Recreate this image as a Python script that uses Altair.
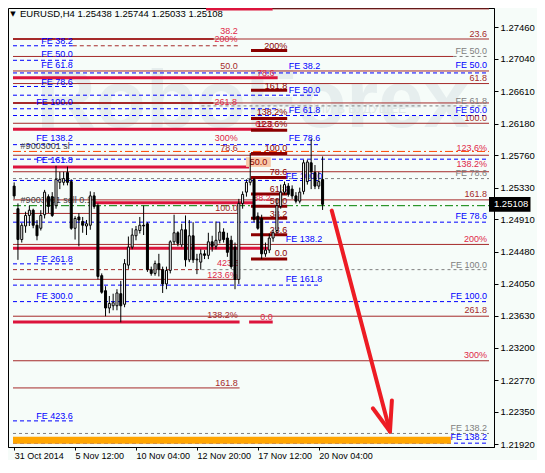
import altair as alt
import pandas as pd

FONT = "Liberation Sans"
BG = "#f6fcf9"

# ---------------- candles (H4 bars, index 0 = 31 Oct 2014) ----------------
opens = [1.2535, 1.2505, 1.2464, 1.2482, 1.2496, 1.2503, 1.2483, 1.2479, 1.2497, 1.2521,
         1.2521, 1.2509, 1.2540, 1.2540, 1.2553, 1.2541, 1.2479, 1.2494, 1.2488, 1.2482,
         1.2483, 1.2522, 1.2509, 1.2416, 1.2396, 1.2373, 1.2376, 1.2376, 1.2392, 1.2378,
         1.2430, 1.2454, 1.2469, 1.2476, 1.2483, 1.2485, 1.2424, 1.2419, 1.2432, 1.2424,
         1.2405, 1.2423, 1.2461, 1.2473, 1.2457, 1.2477, 1.2437, 1.2469, 1.2437, 1.2434,
         1.2445, 1.2443, 1.2461, 1.2455, 1.2463, 1.2474, 1.2466, 1.2463, 1.2454, 1.2411,
         1.2512, 1.2527, 1.2540, 1.2544, 1.2495, 1.2492, 1.2445, 1.2450, 1.2466, 1.2476,
         1.2508, 1.2527, 1.2535, 1.2531, 1.2522, 1.2515, 1.2528, 1.2541, 1.2566, 1.2553,
         1.2535, 1.25438]
highs = [1.2540, 1.2512, 1.2486, 1.2501, 1.2509, 1.2505, 1.2490, 1.2503, 1.2530, 1.2524,
         1.2527, 1.2562, 1.2554, 1.2554, 1.2561, 1.2544, 1.2495, 1.2499, 1.2494, 1.2490,
         1.2528, 1.2527, 1.2512, 1.2419, 1.2402, 1.2389, 1.2392, 1.2398, 1.2409, 1.2438,
         1.2468, 1.2479, 1.2482, 1.2494, 1.2509, 1.2487, 1.2428, 1.2436, 1.2445, 1.2428,
         1.2428, 1.2463, 1.2497, 1.2475, 1.2485, 1.2496, 1.2490, 1.2487, 1.2445, 1.2451,
         1.2450, 1.2473, 1.2469, 1.2488, 1.2487, 1.2479, 1.2473, 1.2469, 1.2460, 1.2518,
         1.2528, 1.2544, 1.2579, 1.2546, 1.2500, 1.2497, 1.2460, 1.2472, 1.2477, 1.2518,
         1.2537, 1.2541, 1.2539, 1.2536, 1.2527, 1.2533, 1.2570, 1.2570, 1.2598, 1.2563,
         1.2554, 1.25744]
lows = [1.2518, 1.2437, 1.2460, 1.2473, 1.2482, 1.2479, 1.2463, 1.2476, 1.2492, 1.2499,
        1.2494, 1.2505, 1.2531, 1.2536, 1.2536, 1.2477, 1.2464, 1.2455, 1.2473, 1.2470,
        1.2477, 1.2505, 1.2411, 1.2392, 1.2362, 1.2366, 1.2370, 1.2370, 1.2354, 1.2374,
        1.2425, 1.2451, 1.2463, 1.2472, 1.2470, 1.2421, 1.2416, 1.2416, 1.2415, 1.2393,
        1.2398, 1.2419, 1.2457, 1.2455, 1.2454, 1.2428, 1.2434, 1.2433, 1.2418, 1.2424,
        1.2438, 1.2438, 1.2448, 1.2451, 1.2459, 1.2460, 1.2441, 1.2425, 1.2398, 1.2405,
        1.2505, 1.2521, 1.2536, 1.2487, 1.2477, 1.2438, 1.2441, 1.2446, 1.2461, 1.2472,
        1.2505, 1.2524, 1.2521, 1.2518, 1.2512, 1.2512, 1.2524, 1.2537, 1.2531, 1.2531,
        1.2531, 1.25033]
closes = [1.2522, 1.2464, 1.2483, 1.2496, 1.2503, 1.2483, 1.2469, 1.2496, 1.2527, 1.2508,
          1.2496, 1.2544, 1.2544, 1.2545, 1.2540, 1.2479, 1.2492, 1.2490, 1.2483, 1.2485,
          1.2522, 1.2508, 1.2415, 1.2394, 1.2373, 1.2379, 1.2380, 1.2393, 1.2376, 1.2432,
          1.2454, 1.2470, 1.2477, 1.2483, 1.2482, 1.2424, 1.2419, 1.2432, 1.2424, 1.2405,
          1.2423, 1.2461, 1.2473, 1.2459, 1.2477, 1.2437, 1.2469, 1.2437, 1.2438, 1.2445,
          1.2443, 1.2461, 1.2455, 1.2463, 1.2474, 1.2464, 1.2447, 1.2428, 1.2411, 1.2512,
          1.2524, 1.2540, 1.2544, 1.2491, 1.2479, 1.2445, 1.2450, 1.2466, 1.2473, 1.2509,
          1.2527, 1.2537, 1.2524, 1.2522, 1.2515, 1.2527, 1.2566, 1.2567, 1.2554, 1.2535,
          1.2541, 1.25108]

tick_bars = [0, 16, 32, 48, 64, 80]
tick_labels = ["31 Oct 2014", "5 Nov 12:00", "10 Nov 04:00", "12 Nov 20:00", "17 Nov 12:00", "20 Nov 04:00"]
price_ticks = [1.27460, 1.27040, 1.26610, 1.26180, 1.25760, 1.25330, 1.24910,
               1.24480, 1.24050, 1.23630, 1.23200, 1.22770, 1.22350, 1.21920]

# ---------------- horizontal levels (price, from bar, to bar, kind) ----------------
lvl_price = [1.27705, 1.27705, 1.27305, 1.27305, 1.27215, 1.27215, 1.27151, 1.27073, 1.27073, 1.27022,
             1.26880, 1.26854, 1.26790, 1.26713, 1.26674, 1.26623, 1.26558, 1.26455, 1.26455, 1.26416,
             1.26378, 1.26288, 1.26249, 1.26185, 1.26107, 1.26094, 1.25901, 1.25811, 1.25785, 1.25760,
             1.25708, 1.25605, 1.25541, 1.25463, 1.25450, 1.25425, 1.25244, 1.25167, 1.25128, 1.25090,
             1.25083, 1.24987, 1.24922, 1.24871, 1.24703, 1.24575, 1.24523, 1.24381, 1.24317, 1.24240,
             1.24240, 1.24111, 1.24034, 1.23815, 1.23621, 1.23544, 1.23544, 1.23029, 1.22668, 1.22230,
             1.22063, 1.21973, 1.21934]
lvl_from = [50.4, 67.9, -0.3, -0.3, -0.3, 15.4, 62.2, -0.3, 115.4, -0.3,
            -0.3, -0.3, -0.3, -0.3, -0.3, 62.2, -0.3, -0.3, 52.4, 49.2,
            -0.3, -0.3, 62.2, -0.3, -0.3, 62.2, -0.3, -0.3, 62.2, -0.3,
            -0.3, -0.3, -0.3, 62.2, -0.3, -0.3, 62.2, -0.3, 21.2, -0.3,
            62.2, -0.3, 62.2, -0.3, 62.2, -0.3, -0.3, 62.2, -0.3, -0.3,
            49.2, -0.3, -0.3, -0.3, -0.3, -0.3, 61.7, -0.3, -0.3, -0.3,
            -0.3, -0.3, -0.3]
lvl_to = [67.9, 124.7, 124.7, 52.4, 15.4, 59.2, 71.7, 115.4, 124.7, 15.4,
          124.7, 124.7, 69.2, 124.7, 15.4, 71.7, 80.4, 52.4, 124.7, 124.7,
          69.2, 124.7, 71.7, 124.7, 67.9, 71.7, 80.4, 124.7, 71.7, 124.7,
          124.7, 61.7, 124.7, 71.7, 124.7, 80.4, 71.7, 124.7, 62.9, 124.7,
          71.7, 59.2, 71.7, 124.7, 71.7, 124.7, 66.7, 71.7, 15.4, 49.2,
          124.7, 59.2, 80.4, 124.7, 124.7, 59.2, 67.9, 124.7, 59.2, 15.4,
          124.7, 114.7, 124.7]
lvl_kind = ["crimson", "brown", "brown", "brown2", "blue", "rdash", "maroon", "brown", "gray", "blue",
            "brown", "blue", "crimson", "brown", "blue", "maroon", "blue", "brown2", "brown", "gray",
            "blue", "blue", "maroon", "brown", "crimson", "maroon", "blue", "sl", "maroon", "brown",
            "blue", "crimson", "brown", "maroon", "gray", "blue", "maroon", "brown", "crimson", "entry",
            "maroon", "brown", "maroon", "blue", "maroon", "brown", "crimson", "maroon", "blue", "rdash",
            "gray", "brown", "blue", "blue", "brown", "crimson", "crimson", "brown", "brown", "blue",
            "gray", "band", "blue"]

# ---------------- level labels (text, bar, price, kind, align) ----------------
lab_text = ["23.6", "200%", "38.2", "FE 38.2", "200%", "FE 50.0", "FE 50.0", "50.0", "FE 61.8", "FE 38.2",
            "FE 50.0", "78.6", "61.8", "FE 78.6", "161.8", "FE 50.0", "FE 100.0", "261.8", "FE 61.8", "138.2%",
            "FE 61.8", "FE 50.0", "100.0", "61.8", "123.6%", "FE 138.2", "300%", "FE 78.6", "#9003001 sl", "78.6",
            "100.0", "123.6%", "FE 161.8", "50.0", "138.2%", "78.6", "FE 78.6", "FE 100.0", "61.8", "161.8",
            "38.2", "#9003001 sell 0.1", "50.0", "100.0", "38.2", "FE 78.6", "23.6", "FE 138.2", "200%", "0.0",
            "FE 261.8", "423.6", "FE 100.0", "123.6%", "FE 161.8", "FE 300.0", "FE 100.0", "261.8", "138.2%", "0.0",
            "300%", "161.8", "FE 423.6", "FE 138.2", "FE 138.2"]
lab_bar = [124.2, 52.6, 58.7, 15.4, 71.7, 124.2, 15.4, 58.7, 15.4, 80.4,
           124.2, 68.4, 124.2, 15.4, 71.7, 80.4, 15.4, 52.6, 124.2, 71.7,
           80.4, 124.2, 124.2, 67.9, 71.7, 15.4, 58.7, 80.4, 1.7, 58.7,
           71.7, 124.2, 15.4, 64.2, 124.2, 71.7, 124.2, 80.9, 71.7, 124.2,
           67.4, 1.7, 71.7, 58.7, 71.7, 124.2, 71.7, 80.9, 124.2, 71.7,
           15.4, 59.2, 124.2, 58.7, 80.9, 15.4, 124.2, 124.2, 58.7, 67.9,
           124.2, 58.7, 15.4, 124.2, 124.2]
lab_price = [1.27370, 1.27305, 1.27408, 1.27279, 1.27215, 1.27151, 1.27112, 1.26945, 1.26957, 1.26945,
             1.26957, 1.26854, 1.26790, 1.26739, 1.26687, 1.26623, 1.26468, 1.26468, 1.26481, 1.26339,
             1.26365, 1.26365, 1.26249, 1.26172, 1.26172, 1.25991, 1.25991, 1.25991, 1.25888, 1.25863,
             1.25850, 1.25850, 1.25695, 1.25669, 1.25644, 1.25541, 1.25528, 1.25489, 1.25309, 1.25244,
             1.25193, 1.25167, 1.25154, 1.25064, 1.24974, 1.24948, 1.24768, 1.24652, 1.24652, 1.24459,
             1.24381, 1.24330, 1.24304, 1.24175, 1.24111, 1.23892, 1.23892, 1.23699, 1.23634, 1.23609,
             1.23106, 1.22733, 1.22295, 1.22140, 1.22012]
lab_kind = ["brown", "red", "red", "blue", "maroon", "gray", "blue", "brown", "blue", "blue",
            "blue", "red", "brown", "blue", "maroon", "blue", "blue", "red", "gray", "maroon",
            "blue", "blue", "brown", "red", "maroon", "blue", "red", "blue", "order", "brown",
            "maroon", "red", "blue", "maroon", "red", "maroon", "gray", "blue", "maroon", "brown",
            "red", "order", "maroon", "brown", "maroon", "blue", "maroon", "blue", "red", "maroon",
            "blue", "red", "gray", "red", "blue", "blue", "blue", "brown", "brown", "red",
            "red", "brown", "blue", "gray", "blue"]
lab_align = ["right", "left", "right", "right", "right", "right", "right", "right", "right", "right",
             "right", "right", "right", "right", "right", "right", "right", "left", "right", "right",
             "right", "right", "right", "right", "right", "right", "right", "right", "left", "right",
             "right", "right", "right", "center", "right", "right", "right", "right", "right", "right",
             "right", "left", "right", "right", "right", "right", "right", "right", "right", "right",
             "right", "right", "right", "right", "right", "right", "right", "right", "right", "right",
             "right", "right", "right", "right", "right"]

# highlighted "50.0" tag box
box_from, box_to, box_top, box_bottom = [60.9], [67.4], [1.25734], [1.25605]

# red forecast arrow (shaft + two head strokes)
arrow_x1 = [83.4, 94.2, 99.2]
arrow_p1 = [1.25025, 1.22398, 1.22501]
arrow_x2 = [98.7, 98.7, 98.7]
arrow_p2 = [1.22089, 1.22089, 1.22089]

# current price tag on the axis
last_price = [1.25108]
tag_from, tag_to, tag_top, tag_bottom, tag_text_bar = [124.7], [135.6], [1.25206], [1.25010], [126.0]

header = "EURUSD,H4 1.25438 1.25744 1.25033 1.25108"

# ---------------- build ----------------
xs = alt.Scale(domain=[-0.3, 124.7], nice=False, zero=False)
ys = alt.Scale(domain=[1.21883, 1.27717], nice=False, zero=False)

candles = pd.DataFrame({"i": list(range(len(opens))), "o": opens, "h": highs, "l": lows, "c": closes})
levels = pd.DataFrame({"p": lvl_price, "x1": lvl_from, "x2": lvl_to, "kind": lvl_kind})
labels = pd.DataFrame({"t": lab_text, "b": lab_bar, "p": lab_price, "kind": lab_kind, "al": lab_align})
box = pd.DataFrame({"x1": box_from, "x2": box_to, "p1": box_top, "p2": box_bottom})
arrow = pd.DataFrame({"x1": arrow_x1, "p1": arrow_p1, "x2": arrow_x2, "p2": arrow_p2})
tag = pd.DataFrame({"x1": tag_from, "x2": tag_to, "p1": tag_top, "p2": tag_bottom,
                    "tb": tag_text_bar, "lp": last_price,
                    "txt": [f"{v:.5f}" for v in last_price]})

x_label_expr = " : ".join(f"datum.value == {b} ? '{t}'" for b, t in zip(tick_bars, tick_labels)) + " : ''"

xaxis = alt.Axis(values=tick_bars, labelExpr=x_label_expr, grid=False, domainColor="black",
                 tickSize=3, tickColor="black", labelAlign="left", labelBaseline="top",
                 labelPadding=1, labelFont=FONT, labelFontSize=9, labelColor="black",
                 labelFlush=False, labelOverlap=False, title=None)
yaxis = alt.Axis(values=price_ticks, format=".5f", orient="right", grid=False, domainColor="black",
                 tickSize=4, tickColor="black", labelAlign="left", labelBaseline="middle",
                 labelPadding=2, labelFont=FONT, labelFontSize=9.5, labelColor="black",
                 labelFlush=False, labelOverlap=False, title=None)


def X(field):
    return alt.X(field, scale=xs, axis=xaxis)


def Y(field):
    return alt.Y(field, scale=ys, axis=yaxis)


line_styles = {
    "brown": dict(color="#a52a2a", strokeWidth=1),
    "brown2": dict(color="#a52a2a", strokeWidth=2),
    "rdash": dict(color="#a52a2a", strokeWidth=1, strokeDash=[4, 3]),
    "gray": dict(color="#808080", strokeWidth=1, strokeDash=[3, 3]),
    "blue": dict(color="#0000ff", strokeWidth=1, strokeDash=[4, 3]),
    "sl": dict(color="#ff4500", strokeWidth=1, strokeDash=[8, 3, 2, 3]),
    "entry": dict(color="#008000", strokeWidth=1, strokeDash=[8, 3, 2, 3]),
    "band": dict(color="#ffa500", strokeWidth=7),
    "crimson": dict(color="#dc143c", strokeWidth=3),
    "maroon": dict(color="#8b0000", strokeWidth=3),
}
label_colors = {"blue": "#0000ff", "gray": "#808080", "brown": "#a52a2a",
                "red": "#e02848", "maroon": "#8b0000", "order": "#404040"}

layers = []

# invisible candle layer first so the shared axes are defined up front
layers.append(alt.Chart(candles).mark_rule(color="black", strokeWidth=1, opacity=0)
              .encode(x=X("i:Q"), y=Y("l:Q"), y2="h:Q"))

wm = pd.DataFrame({"t": ["RoboForex"]})
layers.append(alt.Chart(wm).mark_text(font="Liberation Sans", fontWeight="bold", fontSize=82,
                                      color="#e6eeee", align="center", baseline="alphabetic")
              .encode(x=alt.value(245), y=alt.value(119), text="t:N"))
wm2 = pd.DataFrame({"t": ["ИНВЕСТИЦИИ В БУДУЩЕЕ"]})
layers.append(alt.Chart(wm2).mark_text(font=FONT, fontSize=12, color="#dfe8e8", align="center",
                                       baseline="middle")
              .encode(x=alt.value(320), y=alt.value(101), text="t:N"))

for kind, st in line_styles.items():
    layers.append(alt.Chart(levels).transform_filter(alt.datum.kind == kind).mark_rule(**st)
                  .encode(x=X("x1:Q"), x2="x2:Q", y=Y("p:Q")))

layers.append(alt.Chart(box).mark_rect(color="#f9c9a8")
              .encode(x=X("x1:Q"), x2="x2:Q", y=Y("p1:Q"), y2="p2:Q"))

for al in ["left", "right", "center"]:
    layers.append(alt.Chart(labels).transform_filter(alt.datum.al == al)
                  .mark_text(align=al, baseline="middle", font=FONT, fontSize=9)
                  .encode(x=X("b:Q"), y=Y("p:Q"), text="t:N",
                          color=alt.Color("kind:N", scale=alt.Scale(domain=list(label_colors.keys()),
                                                                    range=list(label_colors.values())),
                                          legend=None)))

layers.append(alt.Chart(candles).mark_rule(color="black", strokeWidth=1)
              .encode(x=X("i:Q"), y=Y("l:Q"), y2="h:Q"))
layers.append(alt.Chart(candles).mark_bar(size=2, stroke="black", strokeWidth=1)
              .encode(x=X("i:Q"), y=Y("o:Q"), y2="c:Q",
                      fill=alt.condition(alt.datum.c >= alt.datum.o, alt.value("white"), alt.value("black"))))

layers.append(alt.Chart(arrow).mark_rule(color="#ed1c24", strokeWidth=4, strokeCap="round")
              .encode(x=X("x1:Q"), x2="x2:Q", y=Y("p1:Q"), y2="p2:Q"))

layers.append(alt.Chart(tag).mark_rect(color="black")
              .encode(x=X("x1:Q"), x2="x2:Q", y=Y("p1:Q"), y2="p2:Q"))
layers.append(alt.Chart(tag).mark_text(color="white", align="left", baseline="middle", font=FONT,
                                       fontSize=9.5)
              .encode(x=X("tb:Q"), y=Y("lp:Q"), text="txt:N"))

hd = pd.DataFrame({"t": [header]})
layers.append(alt.Chart(hd).mark_text(font=FONT, fontSize=9.5, color="black", align="left", baseline="middle")
              .encode(x=alt.value(12), y=alt.value(6), text="t:N"))
ic = pd.DataFrame({"t": ["▼"]})
layers.append(alt.Chart(ic).mark_text(font="DejaVu Sans", fontSize=7, color="black", align="center",
                                      baseline="middle")
              .encode(x=alt.value(5), y=alt.value(6), text="t:N"))

chart = alt.layer(*layers).properties(
    width=486, height=439,
    autosize=alt.AutoSizeParams(type="none"),
    padding={"left": 0, "top": 0, "right": 43, "bottom": 13},
    background=BG,
).configure_view(stroke="black", strokeWidth=1, fill=BG)

chart.save("out.html", embed_options={"renderer": "svg", "actions": False})
